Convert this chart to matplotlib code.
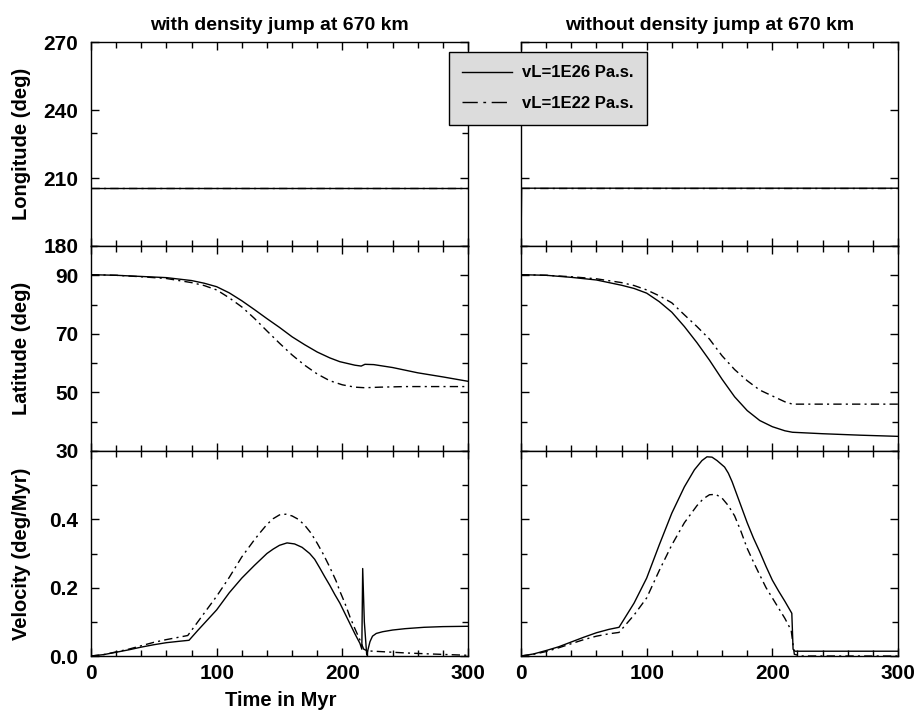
import matplotlib.pyplot as plt
from matplotlib.lines import Line2D
from matplotlib.ticker import MultipleLocator

plt.rcParams['font.family'] = ['Liberation Sans', 'DejaVu Sans']
plt.rcParams['font.weight'] = 'bold'

# ---- data ----
# longitude (deg)
lon_t = [0, 300]
lon_left = [205.5, 205.5]
lon_right_t = [0, 0.5, 300]
lon_right_solid = [180, 205.5, 205.5]

# latitude (deg), with density jump
latL_t_solid = [0, 20, 40, 60, 80, 90, 100, 110, 120, 130, 140, 150, 160, 170, 180, 190, 198,
                210, 215, 218, 225, 240, 260, 280, 300]
latL_solid = [90.2, 90.0, 89.6, 89.2, 88.2, 87.3, 86.1, 84.0, 81.3, 78.3, 75.2, 72.2, 69.0, 66.3,
              63.8, 61.8, 60.5, 59.3, 59.0, 59.6, 59.5, 58.5, 56.7, 55.3, 53.8]
latL_t_dash = [0, 20, 40, 60, 80, 90, 100, 110, 120, 130, 140, 150, 160, 170, 180, 190, 200,
               210, 218, 230, 250, 300]
latL_dash = [90.2, 90.0, 89.5, 88.9, 87.5, 86.5, 85.0, 82.3, 79.2, 75.3, 71.0, 66.8, 62.8, 59.3,
             56.3, 54.0, 52.6, 51.8, 51.6, 51.8, 52.0, 52.0]

# latitude (deg), without density jump
latR_t_solid = [0, 20, 40, 60, 80, 90, 100, 110, 120, 130, 140, 150, 160, 170, 180, 190, 200,
                210, 216, 240, 270, 300]
latR_solid = [90.2, 90.0, 89.3, 88.4, 86.6, 85.5, 83.9, 81.0, 77.4, 72.5, 67.0, 61.0, 54.5, 48.5,
              43.8, 40.4, 38.3, 36.9, 36.4, 35.9, 35.4, 35.0]
latR_t_dash = [0, 20, 40, 60, 80, 90, 100, 110, 120, 130, 140, 150, 160, 170, 180, 190, 200,
               210, 216, 300]
latR_dash = [90.2, 90.0, 89.5, 88.8, 87.5, 86.5, 85.0, 83.0, 80.6, 76.5, 72.5, 68.2, 62.5, 57.8,
             54.0, 50.8, 48.8, 46.8, 46.0, 46.0]

# velocity (deg/Myr), with density jump
velL_t_solid = [0, 10, 20, 30, 40, 50, 60, 70, 78, 85, 90, 100, 110, 120, 130, 140, 145, 150,
                156, 162, 168, 174, 178, 182, 186, 190, 194, 198, 202, 206, 210, 214, 215.5,
                216.2, 217.5, 219.4, 220.5, 222, 224, 227, 232, 240, 250, 265, 280, 300]
velL_solid = [0.0, 0.004, 0.011, 0.018, 0.026, 0.033, 0.039, 0.043, 0.046, 0.075, 0.095, 0.135,
              0.185, 0.228, 0.265, 0.300, 0.313, 0.324, 0.331, 0.328, 0.318, 0.300, 0.283, 0.258,
              0.232, 0.207, 0.180, 0.155, 0.125, 0.095, 0.065, 0.037, 0.02, 0.256, 0.10, 0.003,
              0.02, 0.042, 0.058, 0.066, 0.071, 0.076, 0.080, 0.084, 0.086, 0.087]
velL_t_dash = [0, 10, 20, 30, 40, 50, 60, 70, 77, 85, 90, 100, 110, 120, 130, 135, 140, 145, 150,
               155, 160, 165, 170, 175, 180, 185, 190, 195, 198, 202, 206, 210, 214, 217, 220,
               230, 250, 270, 300]
velL_dash = [0.0, 0.004, 0.012, 0.020, 0.030, 0.040, 0.048, 0.055, 0.060, 0.100, 0.125, 0.175,
             0.230, 0.290, 0.340, 0.363, 0.385, 0.402, 0.413, 0.415, 0.410, 0.400, 0.383, 0.360,
             0.330, 0.297, 0.260, 0.220, 0.190, 0.155, 0.115, 0.080, 0.047, 0.020, 0.015, 0.013,
             0.009, 0.006, 0.002]

# velocity (deg/Myr), without density jump
velR_t_solid = [0, 10, 20, 30, 40, 50, 60, 70, 78, 90, 100, 110, 120, 130, 138, 144, 148, 152,
                156, 162, 165, 168, 172, 176, 180, 185, 190, 195, 200, 205, 210, 215.5, 216.5,
                218, 300]
velR_solid = [0.0, 0.006, 0.016, 0.027, 0.041, 0.055, 0.068, 0.078, 0.084, 0.155, 0.228, 0.325,
              0.418, 0.495, 0.545, 0.572, 0.583, 0.582, 0.572, 0.553, 0.535, 0.510, 0.470, 0.430,
              0.390, 0.345, 0.305, 0.262, 0.222, 0.190, 0.160, 0.125, 0.020, 0.014, 0.014]
velR_t_dash = [0, 10, 20, 30, 40, 50, 60, 70, 78, 90, 100, 110, 120, 130, 140, 145, 150, 155,
               160, 165, 170, 175, 180, 185, 190, 195, 200, 205, 210, 215, 217.5, 223, 300]
velR_dash = [0.0, 0.005, 0.013, 0.024, 0.036, 0.048, 0.058, 0.065, 0.069, 0.120, 0.170, 0.250,
             0.325, 0.390, 0.440, 0.460, 0.472, 0.473, 0.462, 0.440, 0.410, 0.365, 0.315, 0.275,
             0.237, 0.200, 0.170, 0.140, 0.110, 0.075, 0.005, 0.0, 0.0]

titles = ['with density jump at 670 km', 'without density jump at 670 km']
ylabels = ['Longitude (deg)', 'Latitude (deg)', 'Velocity (deg/Myr)']
legend_labels = ['vL=1E26 Pa.s.', 'vL=1E22 Pa.s.']

DASHDOT = (0, (6, 3, 1.5, 3))

fig = plt.figure(figsize=(9.15, 7.13), dpi=100)
W, H = 915, 713
lefts = [91, 521]
rows = [(42, 246), (246, 451), (451, 656)]
axes = [[fig.add_axes([l / W, 1 - b / H, 377 / W, (b - t) / H]) for l in lefts] for t, b in rows]


def style(ax, bottom_row):
    ax.set_xlim(0, 300)
    ax.xaxis.set_major_locator(MultipleLocator(100))
    ax.xaxis.set_minor_locator(MultipleLocator(20))
    ax.tick_params(which='both', direction='in', top=True, right=True, width=1.0)
    ax.tick_params(which='major', length=6)
    ax.tick_params(which='minor', length=4)
    ax.tick_params(axis='x', labelsize=15, pad=6, labelbottom=bottom_row)
    ax.tick_params(axis='y', labelsize=15, pad=9)
    for s in ax.spines.values():
        s.set_linewidth(1.0)


for j in range(2):
    # longitude
    ax = axes[0][j]
    style(ax, False)
    ax.set_ylim(180, 270)
    ax.set_yticks([180, 210, 240, 270])
    if j == 0:
        ax.set_yticks([230], minor=True)
        ax.plot(lon_t, lon_left, color='black', lw=1.0)
        ax.plot(lon_t, lon_left, color='black', lw=1.0, linestyle=DASHDOT)
    else:
        ax.plot(lon_t, lon_left, color='black', lw=1.0, linestyle=DASHDOT)
        ax.plot(lon_right_t, lon_right_solid, color='black', lw=1.0)
    ax.set_title(titles[j], fontsize=14, fontweight='bold', pad=9)

    # latitude
    ax = axes[1][j]
    style(ax, False)
    ax.set_ylim(30, 100)
    ax.set_yticks([30, 50, 70, 90])
    ax.set_yticks([40, 60, 80, 100], minor=True)
    if j == 0:
        ax.plot(latL_t_solid, latL_solid, color='black', lw=1.0)
        ax.plot(latL_t_dash, latL_dash, color='black', lw=1.0, linestyle=DASHDOT)
    else:
        ax.plot(latR_t_solid, latR_solid, color='black', lw=1.0)
        ax.plot(latR_t_dash, latR_dash, color='black', lw=1.0, linestyle=DASHDOT)

    # velocity
    ax = axes[2][j]
    style(ax, True)
    ax.set_ylim(0, 0.6)
    ax.set_yticks([0.0, 0.2, 0.4])
    ax.set_yticks([0.1, 0.3, 0.5, 0.6], minor=True)
    ax.set_yticklabels(['0.0', '0.2', '0.4'])
    if j == 0:
        ax.plot(velL_t_solid, velL_solid, color='black', lw=1.0)
        ax.plot(velL_t_dash, velL_dash, color='black', lw=1.0, linestyle=DASHDOT)
    else:
        ax.plot(velR_t_solid, velR_solid, color='black', lw=1.0)
        ax.plot(velR_t_dash, velR_dash, color='black', lw=1.0, linestyle=DASHDOT)

for i in range(3):
    axes[i][1].tick_params(axis='y', labelleft=False)

# y labels
centers = [(42 + 246) / 2, (246 + 451) / 2, (451 + 656) / 2]
for lab, c in zip(ylabels, centers):
    fig.text(22 / W, 1 - c / H, lab, rotation=90, ha='center', va='center',
             fontsize=14.5, fontweight='bold')
fig.text(281 / W, 1 - 700 / H, 'Time in Myr', ha='center', va='center',
         fontsize=14.5, fontweight='bold')

handles = [Line2D([], [], color='black', lw=1.0),
           Line2D([], [], color='black', lw=1.0, linestyle=(0, (11, 4, 2, 4)))]
leg = fig.legend(handles, legend_labels, loc='upper left',
                 bbox_to_anchor=(449 / W, 1 - 52 / H), borderaxespad=0,
                 fontsize=12, handlelength=3.0, handletextpad=0.6, labelspacing=0.95,
                 borderpad=0.8, fancybox=False, framealpha=1.0,
                 facecolor='#dcdcdc', edgecolor='black')
leg.get_frame().set_linewidth(1.0)
for t in leg.get_texts():
    t.set_fontweight('bold')

fig.savefig('out.png', dpi=100)
